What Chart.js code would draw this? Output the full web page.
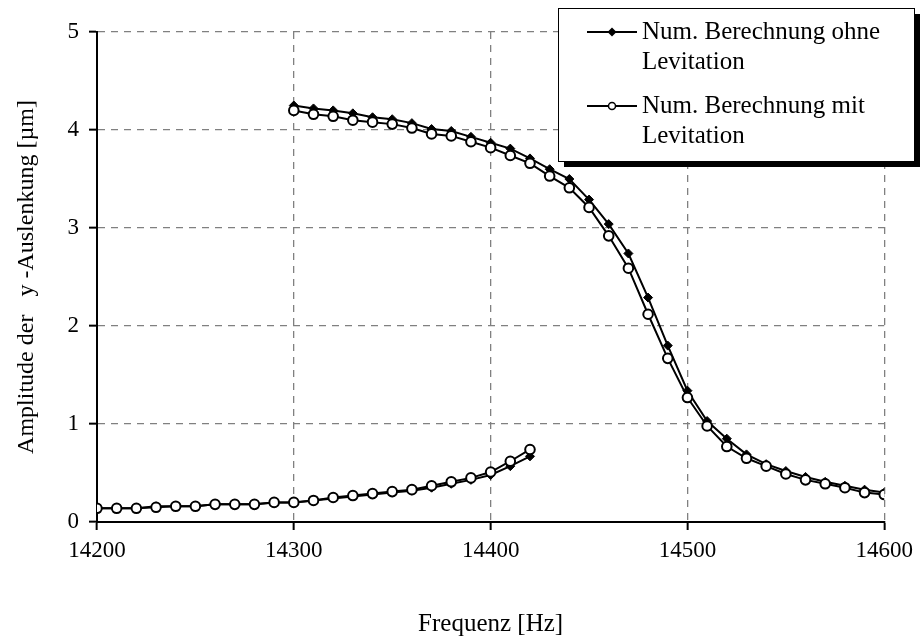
<!DOCTYPE html>
<html>
<head>
<meta charset="utf-8">
<script src="https://cdn.jsdelivr.net/npm/chart.js@4"></script>
<style>
  html, body { margin: 0; padding: 0; background: #fff; }
  canvas { display: block; }
</style>
</head>
<body>
<canvas id="chart" width="920" height="639"></canvas>
<script>
// lower branch (14200 - 14420 Hz)
const freqLower = [14200, 14210, 14220, 14230, 14240, 14250, 14260, 14270, 14280, 14290, 14300,
  14310, 14320, 14330, 14340, 14350, 14360, 14370, 14380, 14390, 14400, 14410, 14420];
const ohneLower = [0.14, 0.14, 0.14, 0.16, 0.16, 0.16, 0.18, 0.18, 0.18, 0.20, 0.20,
  0.22, 0.24, 0.26, 0.28, 0.30, 0.32, 0.35, 0.39, 0.43, 0.48, 0.57, 0.67];
const mitLower = [0.14, 0.14, 0.14, 0.15, 0.16, 0.16, 0.18, 0.18, 0.18, 0.20, 0.20,
  0.22, 0.25, 0.27, 0.29, 0.31, 0.33, 0.37, 0.41, 0.45, 0.51, 0.62, 0.74];

// upper branch (14300 - 14600 Hz)
const freqUpper = [14300, 14310, 14320, 14330, 14340, 14350, 14360, 14370, 14380, 14390, 14400,
  14410, 14420, 14430, 14440, 14450, 14460, 14470, 14480, 14490, 14500,
  14510, 14520, 14530, 14540, 14550, 14560, 14570, 14580, 14590, 14600];
const ohneUpper = [4.25, 4.22, 4.20, 4.17, 4.13, 4.11, 4.07, 4.01, 3.99, 3.93, 3.87,
  3.81, 3.71, 3.60, 3.50, 3.29, 3.04, 2.74, 2.29, 1.80, 1.34,
  1.03, 0.85, 0.69, 0.59, 0.52, 0.46, 0.41, 0.37, 0.33, 0.30];
const mitUpper = [4.20, 4.16, 4.14, 4.10, 4.08, 4.06, 4.02, 3.96, 3.94, 3.88, 3.82,
  3.74, 3.66, 3.53, 3.41, 3.21, 2.92, 2.59, 2.12, 1.67, 1.27,
  0.98, 0.77, 0.65, 0.57, 0.49, 0.43, 0.39, 0.35, 0.30, 0.28];

const xTicks = [14200, 14300, 14400, 14500, 14600];
const yTicks = [0, 1, 2, 3, 4, 5];
const legendLabels = [
  ['Num. Berechnung ohne', 'Levitation'],
  ['Num. Berechnung mit', 'Levitation']
];

const serif = "'Liberation Serif', 'Times New Roman', serif";

function pts(xs, ys) {
  return xs.map((x, i) => ({ x: x, y: ys[i] }));
}

const ohneStyle = {
  borderColor: '#000', borderWidth: 2, tension: 0,
  pointStyle: 'rectRot', pointRadius: 4.5, pointBackgroundColor: '#000',
  pointBorderColor: '#000', pointBorderWidth: 1, order: 1
};
const mitStyle = {
  borderColor: '#000', borderWidth: 2, tension: 0,
  pointStyle: 'circle', pointRadius: 4.8, pointBackgroundColor: '#fff',
  pointBorderColor: '#000', pointBorderWidth: 2, order: 0
};

// boxed legend with shadow, top right
const boxLegend = {
  id: 'boxLegend',
  afterDraw(chart) {
    const ctx = chart.ctx;
    const x = 558, y = 8, w = 356, h = 153;
    ctx.save();
    ctx.fillStyle = '#000';
    ctx.fillRect(x + 6, y + 6, w, h);
    ctx.fillStyle = '#fff';
    ctx.fillRect(x, y, w, h);
    ctx.strokeStyle = '#000';
    ctx.lineWidth = 1;
    ctx.strokeRect(x + 0.5, y + 0.5, w, h);

    ctx.font = '25px ' + serif;
    ctx.textBaseline = 'alphabetic';
    ctx.fillStyle = '#000';
    const rows = [32, 106];
    rows.forEach((ry, i) => {
      ctx.beginPath();
      ctx.lineWidth = 2;
      ctx.moveTo(587, ry);
      ctx.lineTo(637, ry);
      ctx.stroke();
      if (i === 0) {
        ctx.beginPath();
        ctx.moveTo(612, ry - 4.5);
        ctx.lineTo(616.5, ry);
        ctx.lineTo(612, ry + 4.5);
        ctx.lineTo(607.5, ry);
        ctx.closePath();
        ctx.fill();
      } else {
        ctx.beginPath();
        ctx.arc(612, ry, 3.5, 0, Math.PI * 2);
        ctx.fillStyle = '#fff';
        ctx.fill();
        ctx.lineWidth = 1.5;
        ctx.stroke();
        ctx.fillStyle = '#000';
      }
      ctx.fillText(legendLabels[i][0], 642, ry + 7);
      ctx.fillText(legendLabels[i][1], 642, ry + 37);
    });
    ctx.restore();
  }
};

new Chart(document.getElementById('chart'), {
  type: 'line',
  data: {
    datasets: [
      Object.assign({ label: legendLabels[1].join(' '), data: pts(freqUpper, mitUpper) }, mitStyle),
      Object.assign({ label: legendLabels[1].join(' '), data: pts(freqLower, mitLower) }, mitStyle),
      Object.assign({ label: legendLabels[0].join(' '), data: pts(freqUpper, ohneUpper) }, ohneStyle),
      Object.assign({ label: legendLabels[0].join(' '), data: pts(freqLower, ohneLower) }, ohneStyle)
    ]
  },
  options: {
    responsive: false,
    animation: false,
    layout: { padding: { top: 32, right: 32, left: 0, bottom: 0 } },
    plugins: {
      legend: { display: false },
      tooltip: { enabled: false }
    },
    scales: {
      x: {
        type: 'linear',
        min: 14200, max: 14600,
        afterBuildTicks: s => { s.ticks = xTicks.map(v => ({ value: v })); },
        afterFit: s => { s.height = 117; },
        grid: {
          color: '#808080', lineWidth: 1.3,
          drawTicks: true, tickLength: 8, tickColor: '#000', tickWidth: 2
        },
        border: { display: true, color: '#000', width: 2, dash: [7, 6] },
        ticks: {
          color: '#000', font: { family: serif, size: 23 }, padding: 7, maxRotation: 0,
          callback: v => String(v)
        },
        title: {
          display: true, text: 'Frequenz [Hz]', color: '#000',
          font: { family: serif, size: 25 }, padding: { top: 0, bottom: 0 }
        }
      },
      y: {
        min: 0, max: 5,
        afterBuildTicks: s => { s.ticks = yTicks.map(v => ({ value: v })); },
        afterFit: s => { s.width = 97; },
        grid: {
          color: '#808080', lineWidth: 1.3,
          drawTicks: true, tickLength: 8, tickColor: '#000', tickWidth: 2
        },
        border: { display: true, color: '#000', width: 2, dash: [7, 6] },
        ticks: {
          color: '#000', font: { family: serif, size: 23 }, padding: 10,
          callback: v => String(v)
        },
        title: {
          display: true, text: 'Amplitude der   y -Auslenkung [µm]', color: '#000',
          font: { family: serif, size: 24 }, padding: { top: 12, bottom: 0 }
        }
      }
    }
  },
  plugins: [boxLegend]
});
</script>
</body>
</html>
